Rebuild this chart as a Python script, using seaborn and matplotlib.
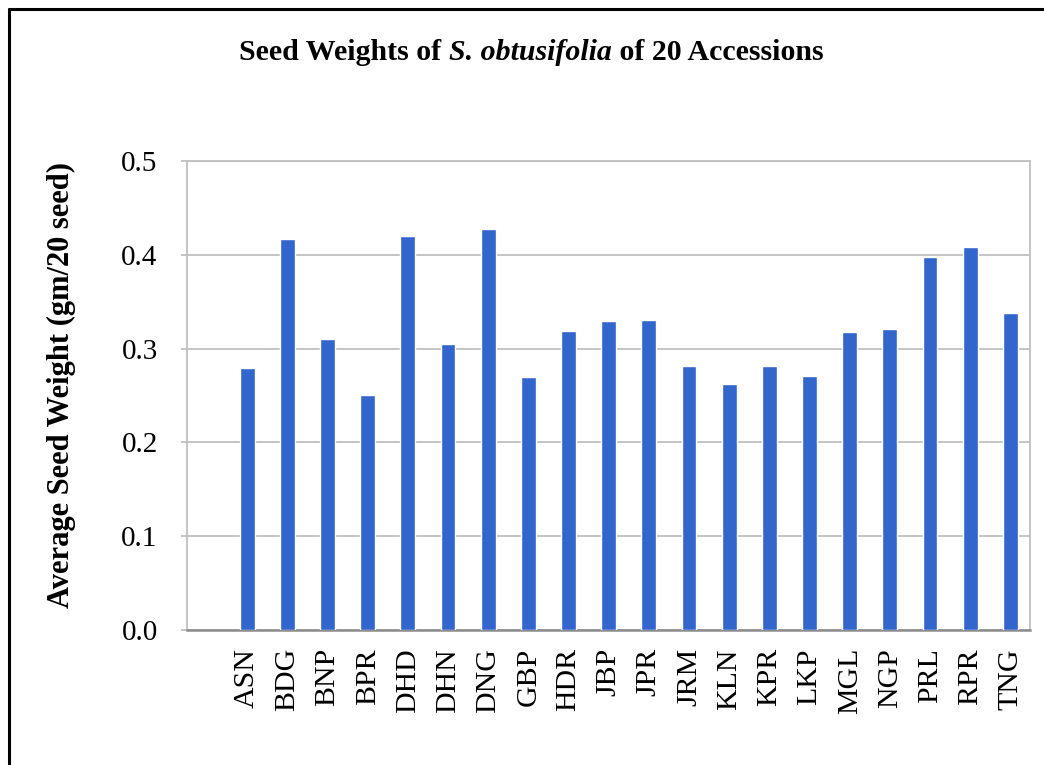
import matplotlib
matplotlib.use("Agg")
import matplotlib.pyplot as plt
from matplotlib.lines import Line2D
import seaborn as sns

# Accessions and average seed weight (gm per 20 seeds)
accessions = ["ASN", "BDG", "BNP", "BPR", "DHD", "DHN", "DNG", "GBP", "HDR", "JBP",
              "JPR", "JRM", "KLN", "KPR", "LKP", "MGL", "NGP", "PRL", "RPR", "TNG"]
weights = [0.279, 0.417, 0.310, 0.251, 0.420, 0.305, 0.428, 0.270, 0.319, 0.329,
           0.331, 0.281, 0.262, 0.281, 0.271, 0.318, 0.321, 0.398, 0.408, 0.338]
y_ticks = [0.0, 0.1, 0.2, 0.3, 0.4, 0.5]

sns.set_theme(style="white")
plt.rcParams["font.family"] = ["Liberation Serif", "DejaVu Serif"]
plt.rcParams["text.color"] = "black"
plt.rcParams["axes.labelcolor"] = "black"

fig = plt.figure(figsize=(10.44, 7.65), dpi=100)
ax = fig.add_axes([0.179, 0.1765, 0.808, 0.613])

sns.barplot(x=accessions, y=weights, color="#3366CC", width=0.37,
            saturation=1, ax=ax, zorder=3)

ax.set_xlim(-1.5, len(accessions) - 0.5)
ax.set_ylim(0, 0.5)
ax.set_yticks(y_ticks)
ax.set_yticklabels([f"{v:.1f}" for v in y_ticks])
ax.yaxis.grid(True, color="#BFBFBF", linewidth=1.3, zorder=0)
ax.set_axisbelow(True)

for side in ["left", "top", "right"]:
    ax.spines[side].set_color("#BFBFBF")
    ax.spines[side].set_linewidth(1.3)
ax.spines["bottom"].set_color("#8C8C8C")
ax.spines["bottom"].set_linewidth(1.8)

ax.tick_params(axis="y", length=4, width=1.3, color="#BFBFBF", pad=17,
               labelsize=21, labelcolor="black", left=True)
ax.tick_params(axis="x", length=0, pad=13, labelsize=21.5, labelcolor="black",
               rotation=90)

ax.set_xlabel("")
ax.set_ylabel("Average Seed Weight (gm/20 seed)", fontsize=22, fontweight="bold",
              color="black")
ax.yaxis.set_label_coords(-0.131, 0.522)

# Title with the italic species name
fig.canvas.draw()
renderer = fig.canvas.get_renderer()
ty = 1 - 52 / 765
parts = [("Seed Weights of ", "normal"), ("S. obtusifolia", "italic"),
         (" of 20 Accessions", "normal")]
texts = [fig.text(0, ty, s, fontsize=21.5, fontweight="bold", fontstyle=st,
                  va="center", ha="left", color="black") for s, st in parts]
widths = [t.get_window_extent(renderer).width / fig.bbox.width for t in texts]
x = 531.5 / 1044 - sum(widths) / 2
for t, w in zip(texts, widths):
    t.set_x(x)
    x += w

# Frame lines along the top and left edges
fig.add_artist(Line2D([9 / 1044, 1], [1 - 9 / 765, 1 - 9 / 765],
                      transform=fig.transFigure, color="black", linewidth=2.2))
fig.add_artist(Line2D([9 / 1044, 9 / 1044], [0, 1 - 9 / 765],
                      transform=fig.transFigure, color="black", linewidth=2.2))

fig.savefig("out.png", dpi=100, facecolor="white")
